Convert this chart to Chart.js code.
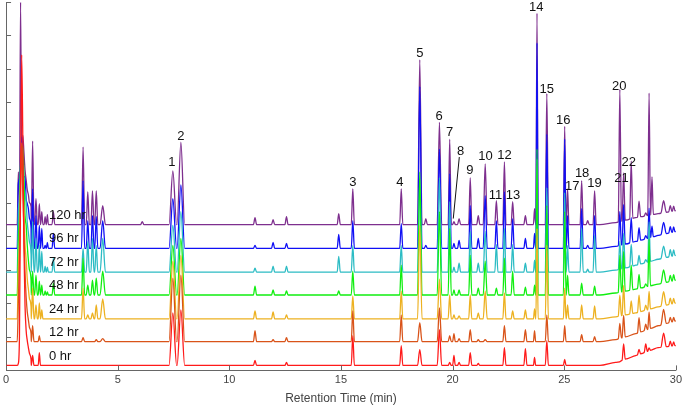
<!DOCTYPE html>
<html>
<head>
<meta charset="utf-8">
<script src="https://cdn.jsdelivr.net/npm/chart.js@4.4.1/dist/chart.umd.min.js"></script>
<style>
  html, body { margin: 0; padding: 0; background: #fff; }
  #wrap { width: 685px; height: 406px; }
</style>
</head>
<body>
<div id="wrap"><canvas id="chromChart"></canvas></div>
<script>
// traces, bottom to top
const traceLabels = ['0 hr', '12 hr', '24 hr', '48 hr', '72 hr', '96 hr', '120 hr'];
const traceColors = ['#ff1a1a', '#d95319', '#edb120', '#11ee11', '#2cbcc4', '#1010f5', '#7e2f8e'];
const baselineOffset = [5, 29, 52, 76, 99, 123, 147];

// solvent front, read as a polyline (height above each baseline)
const solventTimes = [0.5, 0.55, 0.6, 0.65, 0.7, 0.75, 0.8, 0.85, 0.9, 0.95, 1.0, 1.05, 1.12];
const solvent0hr   = [0, 2, 30, 180, 313, 230, 120, 60, 35, 25, 18, 12, 6];
const solvent12hr  = [0, 40, 84, 150, 200, 150, 110, 70, 45, 30, 22, 14, 8];
const solvent24hr  = [0, 50, 81, 140, 170, 140, 110, 75, 60, 40, 30, 20, 12];
const solvent48hr  = [0, 55, 82, 130, 150, 150, 120, 80, 70, 50, 35, 25, 15];
const solvent72hr  = [0, 60, 74, 110, 130, 120, 90, 80, 71, 50, 40, 30, 18];
const solvent96hr  = [0, 65, 70, 80, 112, 100, 72, 72, 50, 45, 40, 30, 20];
const solvent120hr = [0, 53, 30, 224, 60, 90, 73, 55, 45, 35, 30, 22, 18];

// baseline drift at the end of the run
const driftTimes = [26.6, 27.3, 28.2, 29.2, 30];
const drift0hr   = [0, 3, 10, 18, 20];
const drift12hr  = [0, 2, 8, 16, 21];
const drift24hr  = [0, 2, 6, 12, 16];
const drift48hr  = [0, 2, 6, 11, 15];
const drift72hr  = [0, 2, 7, 13, 17];
const drift96hr  = [0, 2, 7, 13, 17];
const drift120hr = [0, 2, 7, 11, 14];

// peaks: retention time (min), half width at base (min), height per trace
const peakTimes = [1.19, 1.34, 1.49, 1.60, 1.75, 1.85, 2.12, 3.45, 3.66, 3.87, 4.04, 4.33, 6.10,
  7.47, 7.83, 11.15, 11.96, 12.56, 14.90, 15.53, 17.70, 18.53, 18.80, 19.41, 19.87, 20.06, 20.29,
  20.79, 21.15, 21.46, 21.96, 22.32, 22.69, 23.26, 23.67, 23.78, 24.22, 25.02, 25.15, 25.78, 26.05,
  26.36, 27.49, 27.66, 28.00, 28.35, 28.65, 28.80, 28.93, 29.45, 29.75, 29.90];
const peakHalfWidth = [0.06, 0.06, 0.05, 0.05, 0.045, 0.045, 0.06, 0.07, 0.07, 0.07, 0.07, 0.12, 0.07,
  0.17, 0.17, 0.07, 0.07, 0.07, 0.07, 0.07, 0.07, 0.1, 0.07, 0.1, 0.07, 0.06, 0.07,
  0.07, 0.07, 0.09, 0.07, 0.07, 0.07, 0.07, 0.05, 0.05, 0.07, 0.06, 0.06, 0.07, 0.07,
  0.07, 0.07, 0.07, 0.07, 0.07, 0.07, 0.06, 0.06, 0.12, 0.07, 0.06];
const peaks0hr   = [10,0,13,0,0,0,0, 0,0,0,0,0, 0, 53,56, 5,0,3, 0,30, 20, 16,0, 36,3,10,3, 13,2,0,0,18,0, 17,8,0,25, 6,0,0,0,0, 0,16,0,5,8,3,0, 14,5,4];
const peaks12hr  = [16,0,6,0,0,0,0, 4,0,0,2,3, 0, 64,67, 11,2,4, 0,31, 27, 19,0, 34,6,8,3, 12,2,2,0,16,0, 12,11,0,27, 16,0,7,0,5, 15,22,0,15,6,17,0, 15,5,4];
const peaks24hr  = [31,14,16,9,0,0,0, 31,4,6,14,20, 0, 58,64, 8,7,4, 0,23, 28, 94,0, 40,24,4,3, 24,6,28,0,26,8, 9,10,91,74, 31,14,14,0,13, 21,30,13,17,5,18,0, 14,6,5];
const peaks48hr  = [24,20,14,10,4,3,12, 37,10,15,17,24, 0, 50,57, 9,5,4, 4,24, 30, 124,0, 84,67,5,5, 40,7,34,7,37,24, 8,10,147,90, 84,20,12,0,9, 37,40,25,14,3,47,0, 13,6,6];
const peaks72hr  = [51,34,27,21,6,5,14, 24,31,34,27,34, 0, 47,61, 4,6,6, 16,27, 27, 94,0, 95,71,5,9, 41,9,41,28,44,28, 9,12,114,85, 80,27,44,3,37, 28,35,22,9,3,40,0, 12,7,6];
const peaks96hr  = [60,33,23,20,3,6,15, 68,28,33,32,28, 0, 50,64, 3,6,5, 14,28, 25, 163,3, 100,75,5,8, 43,10,53,28,57,30, 10,15,207,115, 110,33,40,3,33, 34,40,25,13,3,30,11, 12,6,5];
const peaks120hr = [84,26,21,13,8,10,13, 78,33,34,34,19, 3, 54,83, 7,5,8, 11,36, 36, 166,6, 103,86,3,6, 47,9,61,24,63,23, 9,16,213,132, 99,36,44,4,34, 133,48,58,16,3,123,38, 12,6,5];

// numbered peak annotations [text, time, signal]
const peakLabels = [
  ['1', 7.43, 210], ['2', 7.83, 236], ['3', 15.53, 189], ['4', 17.64, 189],
  ['5', 18.53, 319], ['6', 19.40, 256], ['7', 19.87, 240], ['8', 20.36, 221],
  ['9', 20.77, 202], ['10', 21.47, 216], ['11', 21.92, 176], ['12', 22.32, 217],
  ['13', 22.70, 176], ['14', 23.75, 366], ['15', 24.22, 283], ['16', 24.96, 252],
  ['17', 25.36, 185], ['18', 25.80, 199], ['19', 26.35, 188], ['20', 27.46, 286],
  ['21', 27.56, 193], ['22', 27.89, 210]
];
const leader8 = [[20.30, 215], [20.03, 153]];

const solventByTrace = [solvent0hr, solvent12hr, solvent24hr, solvent48hr, solvent72hr, solvent96hr, solvent120hr];
const driftByTrace = [drift0hr, drift12hr, drift24hr, drift48hr, drift72hr, drift96hr, drift120hr];
const peaksByTrace = [peaks0hr, peaks12hr, peaks24hr, peaks48hr, peaks72hr, peaks96hr, peaks120hr];

function baseAt(k, t) {
  const d = driftByTrace[k];
  let extra = 0;
  if (t >= driftTimes[0]) {
    for (let i = 0; i < driftTimes.length - 1; i++) {
      if (t >= driftTimes[i] && t <= driftTimes[i + 1]) {
        const f = (t - driftTimes[i]) / (driftTimes[i + 1] - driftTimes[i]);
        extra = d[i] + f * (d[i + 1] - d[i]);
      }
    }
  }
  return baselineOffset[k] + extra;
}

function buildTrace(k) {
  const pts = [{ x: 0, y: baselineOffset[k] }];
  solventTimes.forEach((t, i) => pts.push({ x: t, y: baselineOffset[k] + solventByTrace[k][i] }));
  peakTimes.forEach((t, i) => {
    const h = peaksByTrace[k][i];
    if (!h) return;
    const w = peakHalfWidth[i];
    pts.push({ x: t - w, y: baseAt(k, t - w) });
    pts.push({ x: t, y: baseAt(k, t) + h });
    pts.push({ x: t + w, y: baseAt(k, t + w) });
  });
  driftTimes.forEach((t, i) => pts.push({ x: t, y: baselineOffset[k] + driftByTrace[k][i] }));
  pts.sort((a, b) => a.x - b.x);
  return pts;
}

const overlay = {
  id: 'overlay',
  afterDatasetsDraw(chart) {
    const { ctx, scales: { x, y } } = chart;
    ctx.save();
    // inward tick marks
    ctx.strokeStyle = '#666';
    ctx.lineWidth = 1;
    ctx.beginPath();
    x.ticks.forEach(tk => {
      const px = Math.round(x.getPixelForValue(tk.value)) + 0.5;
      ctx.moveTo(px, y.bottom);
      ctx.lineTo(px, y.bottom - 5);
    });
    y.ticks.forEach(tk => {
      const py = Math.round(y.getPixelForValue(tk.value)) + 0.5;
      ctx.moveTo(x.left, py);
      ctx.lineTo(x.left + 5, py);
    });
    ctx.stroke();

    ctx.fillStyle = '#111';
    ctx.font = '13px "Liberation Sans", Arial, sans-serif';
    ctx.textBaseline = 'middle';
    ctx.textAlign = 'left';
    traceLabels.forEach((lbl, k) => {
      ctx.fillText(lbl, x.getPixelForValue(1.92), y.getPixelForValue(baselineOffset[k] + 9.5));
    });
    ctx.textAlign = 'center';
    peakLabels.forEach(([txt, t, v]) => {
      ctx.fillText(txt, x.getPixelForValue(t), y.getPixelForValue(v));
    });
    ctx.strokeStyle = '#111';
    ctx.beginPath();
    ctx.moveTo(x.getPixelForValue(leader8[0][0]), y.getPixelForValue(leader8[0][1]));
    ctx.lineTo(x.getPixelForValue(leader8[1][0]), y.getPixelForValue(leader8[1][1]));
    ctx.stroke();
    ctx.restore();
  }
};

const ctx = document.getElementById('chromChart').getContext('2d');
new Chart(ctx, {
  type: 'line',
  data: {
    datasets: traceLabels.map((lbl, k) => ({
      label: lbl,
      data: buildTrace(k),
      borderColor: traceColors[k],
      borderWidth: 1.3,
      pointRadius: 0,
      fill: false,
      cubicInterpolationMode: 'monotone'
    }))
  },
  options: {
    responsive: true,
    maintainAspectRatio: false,
    animation: false,
    layout: { padding: { left: 5, right: 7, top: 2, bottom: 0 } },
    scales: {
      x: {
        type: 'linear',
        min: 0,
        max: 30,
        ticks: { stepSize: 5, color: '#444', padding: 3, font: { size: 11, family: '"Liberation Sans", Arial' } },
        grid: { drawOnChartArea: false, drawTicks: false },
        border: { color: '#666' },
        title: { display: true, text: 'Retention Time (min)', color: '#444', padding: { top: 2, bottom: 0 },
                 font: { size: 12, family: '"Liberation Sans", Arial' } }
      },
      y: {
        min: 0,
        max: 371.25,
        ticks: { display: false, stepSize: 33.75 },
        grid: { drawOnChartArea: false, drawTicks: false },
        border: { color: '#666' }
      }
    },
    plugins: {
      legend: { display: false },
      tooltip: { enabled: false }
    }
  },
  plugins: [overlay]
});
</script>
</body>
</html>
